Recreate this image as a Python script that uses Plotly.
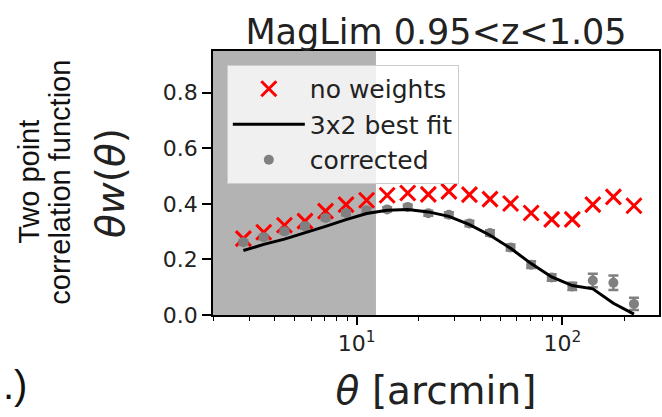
import math
import plotly.graph_objects as go

# ---- data ----
theta = [2.81, 3.53, 4.45, 5.60, 7.05, 8.87, 11.17, 14.06, 17.70, 22.29,
         28.06, 35.32, 44.47, 55.98, 70.47, 88.72, 111.7, 140.6, 177.0, 222.9]
no_weights = [0.275, 0.298, 0.323, 0.338, 0.374, 0.397, 0.413, 0.431, 0.439, 0.434,
              0.445, 0.433, 0.417, 0.401, 0.367, 0.344, 0.344, 0.397, 0.425, 0.393]
corrected = [0.262, 0.280, 0.301, 0.319, 0.349, 0.367, 0.377, 0.380, 0.389, 0.366,
             0.361, 0.329, 0.295, 0.243, 0.181, 0.135, 0.103, 0.124, 0.116, 0.040]
corrected_err = [0.008, 0.008, 0.008, 0.008, 0.008, 0.008, 0.008, 0.008, 0.008, 0.009,
                 0.009, 0.010, 0.010, 0.011, 0.012, 0.012, 0.013, 0.024, 0.026, 0.022]
best_fit = [0.232, 0.254, 0.273, 0.295, 0.319, 0.343, 0.365, 0.377, 0.380, 0.371,
            0.355, 0.325, 0.287, 0.240, 0.185, 0.137, 0.106, 0.094, 0.042, 0.003]
scale_cut = 12.4
x_range = [2.0, 295.0]
y_range = [0.0, 0.95]
x_major = [10, 100]
x_major_text = ["10<sup>1</sup>", "10<sup>2</sup>"]
x_minor = [2, 3, 4, 5, 6, 7, 8, 9, 20, 30, 40, 50, 60, 70, 80, 90, 200]
y_ticks = [0.0, 0.2, 0.4, 0.6, 0.8]
y_ticktext = ["0.0", "0.2", "0.4", "0.6", "0.8"]

FONT = "DejaVu Sans"

fig = go.Figure()

fig.add_trace(go.Scatter(
    x=theta, y=no_weights, mode="markers", name="no weights",
    marker=dict(symbol="x-thin", size=15, color="red",
                line=dict(color="red", width=3)),
    legendrank=1, legendgroup="a"))

fig.add_trace(go.Scatter(
    x=theta, y=corrected, mode="markers", name="corrected",
    marker=dict(symbol="circle", size=10, color="#808080"),
    error_y=dict(type="data", array=corrected_err, color="#808080",
                 thickness=2.5, width=5),
    legendrank=3, legendgroup="c"))

fig.add_trace(go.Scatter(
    x=theta, y=best_fit, mode="lines", name="3x2 best fit",
    line=dict(color="black", width=3),
    legendrank=2, legendgroup="b"))

fig.add_shape(type="rect", xref="x", yref="paper",
              x0=x_range[0], x1=scale_cut, y0=0, y1=1,
              fillcolor="#b3b3b3", line=dict(width=0), layer="below")

fig.update_xaxes(
    type="log", range=[math.log10(x_range[0]), math.log10(x_range[1])],
    showline=True, linecolor="black", linewidth=1.5, mirror=True,
    ticks="outside", ticklen=8, tickwidth=1.5, tickcolor="black",
    tickvals=x_major, ticktext=x_major_text,
    tickfont=dict(family=FONT, size=22, color="#222"),
    minor=dict(tickvals=x_minor, ticks="outside", ticklen=4, tickwidth=1.2,
               tickcolor="black", showgrid=False),
    showgrid=False, zeroline=False,
    title=dict(text="<i>θ</i> [arcmin]", font=dict(family=FONT, size=39, color="#222"),
               standoff=22))

fig.update_yaxes(
    range=y_range, showline=True, linecolor="black", linewidth=1.5, mirror=True,
    ticks="outside", ticklen=9, tickwidth=1.5, tickcolor="black",
    tickvals=y_ticks, ticktext=y_ticktext,
    tickfont=dict(family=FONT, size=22, color="#222"),
    showgrid=False, zeroline=False,
    title=dict(text="<i>θw</i>(<i>θ</i>)", font=dict(family=FONT, size=39, color="#222"),
               standoff=26))

fig.add_annotation(text="Two point", xref="paper", yref="paper",
                   x=-(213 - 28) / 448, y=(315 - 182) / 264,
                   xanchor="center", yanchor="middle", textangle=-90, showarrow=False,
                   font=dict(family="Liberation Sans", size=29, color="#111"))
fig.add_annotation(text="correlation function", xref="paper", yref="paper",
                   x=-(213 - 59) / 448, y=(315 - 182) / 264,
                   xanchor="center", yanchor="middle", textangle=-90, showarrow=False,
                   font=dict(family="Liberation Sans", size=29, color="#111"))
fig.add_annotation(text=".)", xref="paper", yref="paper",
                   x=-(213 - 0) / 448, y=(315 - 385) / 264,
                   xanchor="left", yanchor="middle", showarrow=False,
                   font=dict(family="Liberation Sans", size=40, color="#111"))

fig.update_layout(
    width=662, height=417,
    margin=dict(l=213, r=1, t=51, b=102),
    paper_bgcolor="white", plot_bgcolor="white",
    title=dict(text="MagLim 0.95<z<1.05", xref="paper", x=0.5, xanchor="center",
               yref="container", y=(417 - 32) / 417, yanchor="middle",
               font=dict(family=FONT, size=35, color="#222")),
    legend=dict(x=0.031, y=0.947, xanchor="left", yanchor="top",
                bgcolor="rgba(255,255,255,0.8)", bordercolor="#cccccc", borderwidth=1,
                font=dict(family=FONT, size=25, color="#222"),
                itemwidth=72, tracegroupgap=0, traceorder="normal"),
    showlegend=True,
)

fig.write_html("out.html")
